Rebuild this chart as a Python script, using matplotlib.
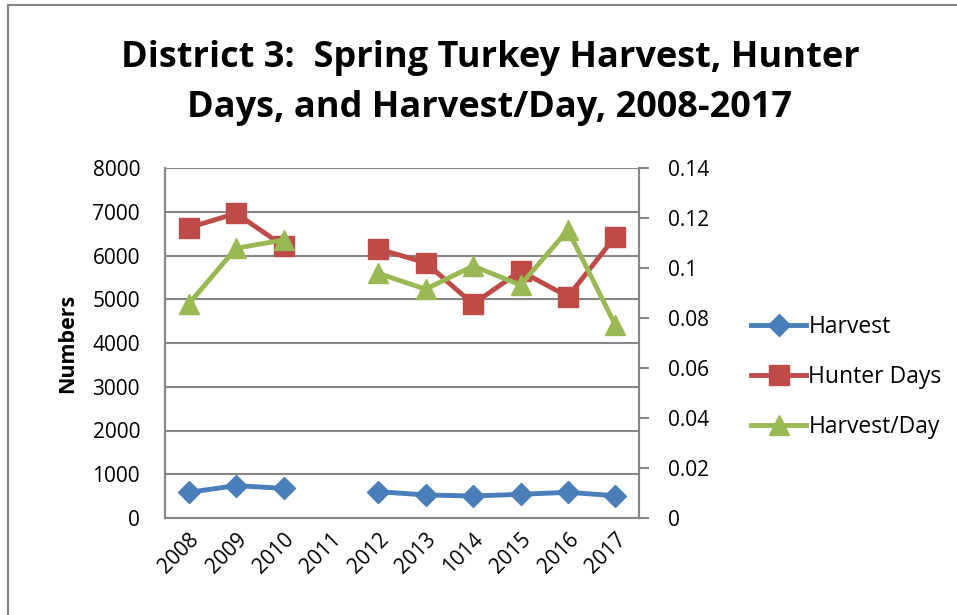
import matplotlib
matplotlib.use('Agg')
import matplotlib.pyplot as plt
from matplotlib.lines import Line2D

# data
years = ['2008', '2009', '2010', '2011', '2012', '2013', '1014', '2015', '2016', '2017']
harvest = [587, 739, 678, None, 602, 526, 503, 541, 587, 510]
hunter_days = [6635, 6964, 6217, None, 6149, 5836, 4891, 5646, 5059, 6430]
harvest_per_day = [0.0856, 0.1079, 0.1112, None, 0.0979, 0.0915, 0.1008, 0.0932, 0.1152, 0.0772]

left_ticks = [0, 1000, 2000, 3000, 4000, 5000, 6000, 7000, 8000]
right_ticks = [0, 0.02, 0.04, 0.06, 0.08, 0.1, 0.12, 0.14]
right_labels = ['0', '0.02', '0.04', '0.06', '0.08', '0.1', '0.12', '0.14']

blue = '#4a7ebb'
red = '#be4b48'
green = '#98b954'
grid_col = '#868686'

plt.rcParams['font.family'] = ['Open Sans', 'DejaVu Sans']

fig = plt.figure(figsize=(9.57, 6.15), dpi=100)
W, H = 957, 615
ax = fig.add_axes([165 / W, 1 - 518 / H, (639 - 165) / W, (518 - 168) / H])
ax2 = ax.twinx()

x = list(range(len(years)))
def split(vals):
    return [v if v is not None else float('nan') for v in vals]

ax.plot(x, split(harvest), color=blue, lw=3.5, marker='D', ms=11, label='Harvest', zorder=3)
ax.plot(x, split(hunter_days), color=red, lw=3.5, marker='s', ms=14, label='Hunter Days', zorder=3)
ax2.plot(x, split(harvest_per_day), color=green, lw=3.5, marker='^', ms=15, label='Harvest/Day', zorder=3)

ax.set_xlim(-0.5, len(years) - 0.5)
ax.set_ylim(0, 8000)
ax2.set_ylim(0, 0.14)
ax.set_yticks(left_ticks)
ax.set_yticklabels([str(t) for t in left_ticks], fontsize=15)
ax2.set_yticks(right_ticks)
ax2.set_yticklabels(right_labels, fontsize=15)
ax.set_xticks(x)
ax.set_xticklabels(years, rotation=45, ha='right', rotation_mode='anchor', fontsize=15)

ax.grid(axis='y', color=grid_col, lw=1.5)
ax.set_axisbelow(True)
ax.tick_params(axis='y', length=0, pad=18)
ax.tick_params(axis='x', length=0, pad=8)
ax2.tick_params(axis='y', length=7, width=1.5, color=grid_col, pad=14)

for a in (ax, ax2):
    a.spines['top'].set_visible(False)
    for s in ('left', 'right', 'bottom'):
        a.spines[s].set_color(grid_col)
        a.spines[s].set_linewidth(1.5)

ax.set_ylabel('Numbers', fontsize=15.5, fontweight='bold', labelpad=10)

fig.text(490 / W, 1 - 58 / H, 'District 3:  Spring Turkey Harvest, Hunter',
         ha='center', va='center', fontsize=26, fontweight='bold')
fig.text(490 / W, 1 - 108 / H, 'Days, and Harvest/Day, 2008-2017',
         ha='center', va='center', fontsize=26, fontweight='bold')

handles = [
    Line2D([], [], color=blue, lw=3.5, marker='D', ms=11),
    Line2D([], [], color=red, lw=3.5, marker='s', ms=14),
    Line2D([], [], color=green, lw=3.5, marker='^', ms=15),
]
fig.legend(handles, ['Harvest', 'Hunter Days', 'Harvest/Day'],
           loc='center left', bbox_to_anchor=(742 / W, 1 - 377 / H),
           frameon=False, fontsize=16.5, handlelength=2.4, handletextpad=0.1,
           labelspacing=1.15, borderaxespad=0)

# chart frame
fig.add_artist(Line2D([8 / W, 8 / W], [0, 1 - 5 / H], color=grid_col, lw=1.5))
fig.add_artist(Line2D([8 / W, 1], [1 - 5 / H, 1 - 5 / H], color=grid_col, lw=1.5))

fig.savefig('out.png', dpi=100)
